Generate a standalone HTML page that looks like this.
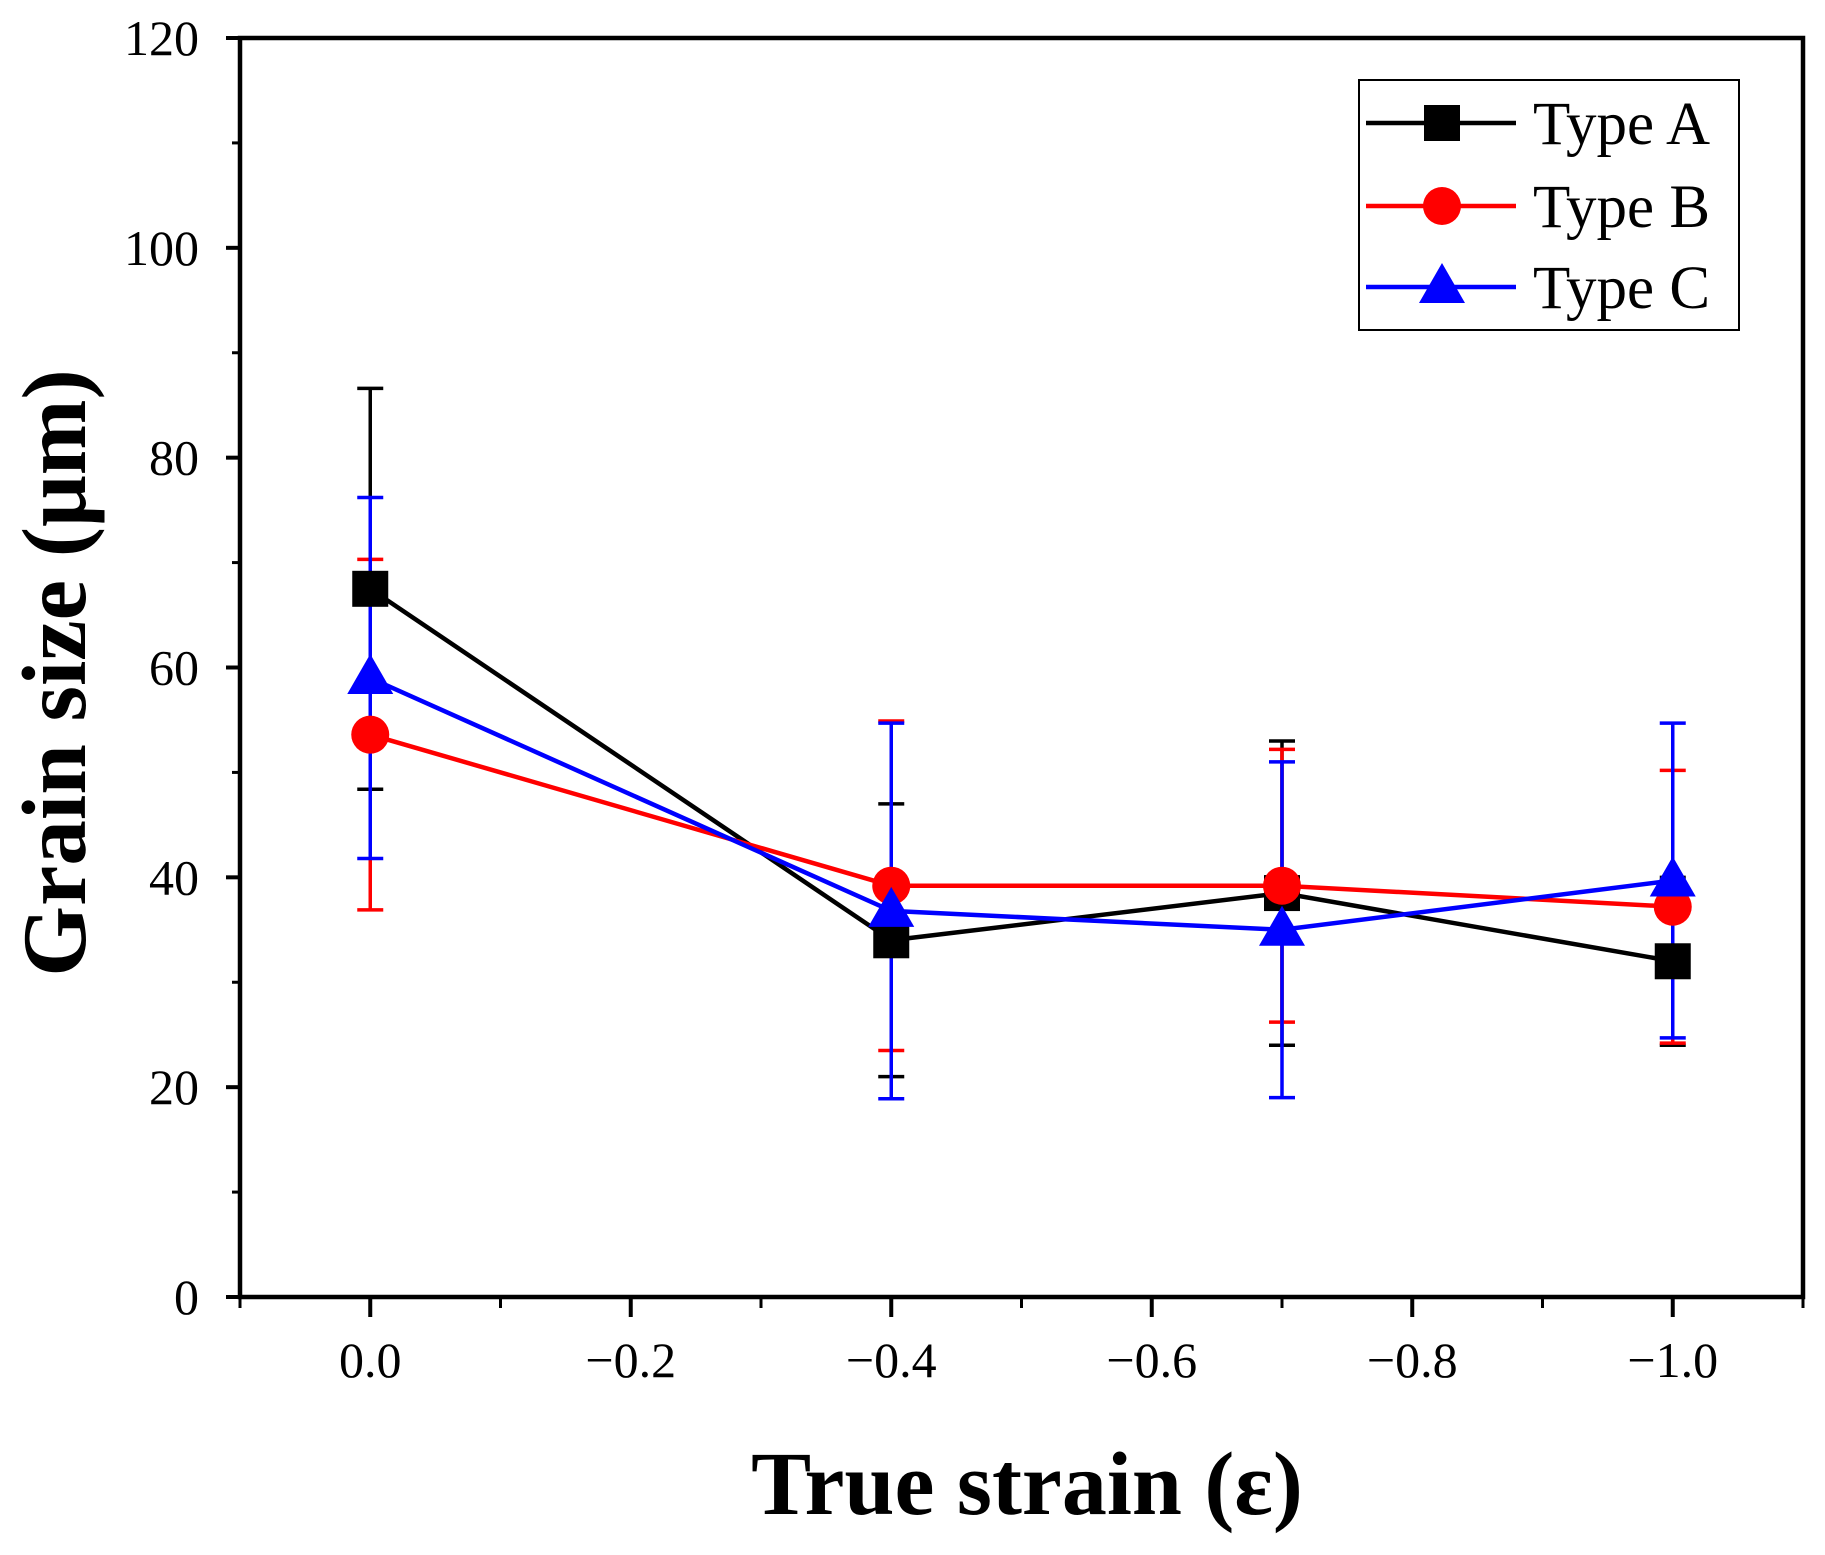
<!DOCTYPE html>
<html><head><meta charset="utf-8"><style>
html,body{margin:0;padding:0;background:#fff;}
svg{display:block;font-family:"Liberation Serif",serif;}
</style></head><body>
<svg id="chart" width="1825" height="1555" viewBox="0 0 1825 1555" xmlns="http://www.w3.org/2000/svg">
<g id="plot"></g>
</svg>
<script>
const strains = [0.0, -0.4, -0.7, -1.0];
const typeA = [67.5, 34.0, 38.5, 32.0];
const typeAErr = [19.1, 13.0, 14.5, 8.0];
const typeB = [53.6, 39.2, 39.2, 37.2];
const typeBErr = [16.7, 15.7, 13.0, 13.0];
const typeC = [59.0, 36.8, 35.0, 39.7];
const typeCErr = [17.2, 17.9, 16.0, 15.0];
const xTickLabels = ["0.0", "\u22120.2", "\u22120.4", "\u22120.6", "\u22120.8", "\u22121.0"];
const xTickValues = [0, -0.2, -0.4, -0.6, -0.8, -1.0];
const yTickValues = [0, 20, 40, 60, 80, 100, 120];
const seriesNames = ["Type A", "Type B", "Type C"];

const NS = "http://www.w3.org/2000/svg";
const L = 240, R = 1803, T = 38, B = 1297;
const xMin = 0.1, xMax = -1.1, yMin = 0, yMax = 120;
function xs(v){ return L + (v - xMin) / (xMax - xMin) * (R - L); }
function ys(v){ return B - (v - yMin) / (yMax - yMin) * (B - T); }
const svg = document.getElementById('chart');
const plot = document.getElementById('plot');
function mk(tag, attrs, parent){
  const e = document.createElementNS(NS, tag);
  for (const k in attrs) e.setAttribute(k, attrs[k]);
  (parent || svg).appendChild(e);
  return e;
}

const series = [
  {vals:typeA, err:typeAErr, color:"#000000", marker:"square", name:"type-a"},
  {vals:typeB, err:typeBErr, color:"#ff0000", marker:"circle", name:"type-b"},
  {vals:typeC, err:typeCErr, color:"#0000ff", marker:"triangle", name:"type-c"}
];
function drawMarker(kind, cx, cy, color, parent){
  let m;
  if (kind === "square") m = mk('rect', {x:cx-18, y:cy-18, width:36, height:36, fill:color}, parent);
  else if (kind === "circle") m = mk('circle', {cx:cx, cy:cy, r:19, fill:color}, parent);
  else m = mk('polygon', {points:`${cx},${cy-24} ${cx+23},${cy+16} ${cx-23},${cy+16}`, fill:color}, parent);
  return m;
}
series.forEach(s => {
  const g = mk('g', {}, plot);
  
  
  s.vals.forEach((v, i) => {
    const x = xs(strains[i]);
    const eb = mk('g', {stroke:s.color, 'stroke-width':3.5}, g);
    
    
    mk('line', {x1:x, x2:x, y1:ys(v - s.err[i]), y2:ys(v + s.err[i])}, eb);
    mk('line', {x1:x-13, x2:x+13, y1:ys(v + s.err[i]), y2:ys(v + s.err[i])}, eb);
    mk('line', {x1:x-13, x2:x+13, y1:ys(v - s.err[i]), y2:ys(v - s.err[i])}, eb);
  });
  const pts = s.vals.map((v, i) => xs(strains[i]) + ',' + ys(v)).join(' ');
  const line = mk('polyline', {points:pts, fill:'none', stroke:s.color, 'stroke-width':4.5}, g);
  
  
});
series.forEach(s => {
  s.vals.forEach((v, i) => {
    const m = drawMarker(s.marker, xs(strains[i]), ys(v), s.color, plot);
    
    
  });
});

const frame = mk('rect', {x:L, y:T, width:R-L, height:B-T, fill:'none', stroke:'#000', 'stroke-width':4.5});



yTickValues.forEach(v => {
  const y = ys(v);
  mk('line', {x1:L-14, x2:L, y1:y, y2:y, stroke:'#000', 'stroke-width':4});
  const t = mk('text', {x:199, y:y+17, 'text-anchor':'end', 'font-size':50, fill:'#000'});
  t.textContent = v;
  
  
  if (v < 120) {
    const ym = ys(v + 10);
    mk('line', {x1:L-8, x2:L, y1:ym, y2:ym, stroke:'#000', 'stroke-width':3});
  }
});
xTickValues.forEach((v, i) => {
  const x = xs(v);
  mk('line', {x1:x, x2:x, y1:B, y2:B+20, stroke:'#000', 'stroke-width':4});
  const t = mk('text', {x:x, y:1377, 'text-anchor':'middle', 'font-size':50, fill:'#000'});
  t.textContent = xTickLabels[i];
  
  
});
[0.1, -0.1, -0.3, -0.5, -0.7, -0.9, -1.1].forEach(v => {
  const x = xs(v);
  mk('line', {x1:x, x2:x, y1:B, y2:B+11, stroke:'#000', 'stroke-width':3});
});

const xt = mk('text', {x:1027, y:1514, 'text-anchor':'middle', 'font-size':90, 'font-weight':'bold', fill:'#000'});
xt.textContent = 'True strain (\u03b5)';


const yt = mk('text', {x:0, y:0, 'text-anchor':'middle', 'font-size':91, 'font-weight':'bold', fill:'#000', transform:'translate(85,673) rotate(-90)'});
yt.textContent = 'Grain size (\u03bcm)';



const lg = mk('g', {});


mk('rect', {x:1359, y:80, width:380, height:250, fill:'#fff', stroke:'#000', 'stroke-width':2}, lg);
const legY = [123, 206, 287];
series.forEach((s, i) => {
  const e = mk('g', {}, lg);
  
  
  mk('line', {x1:1366, x2:1516, y1:legY[i], y2:legY[i], stroke:s.color, 'stroke-width':4.5}, e);
  drawMarker(s.marker, 1442, legY[i], s.color, e);
  const t = mk('text', {x:1533, y:legY[i]+21, 'font-size':61, fill:'#000'}, e);
  t.textContent = seriesNames[i];
});
</script>
</body></html>
